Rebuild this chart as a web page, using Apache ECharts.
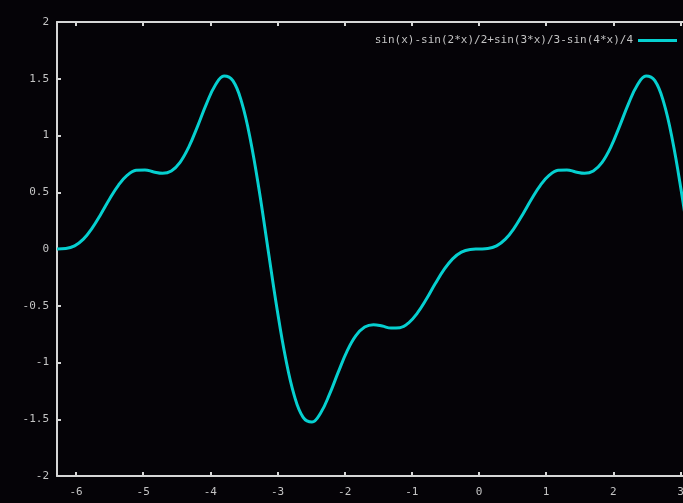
<!DOCTYPE html>
<html>
<head>
<meta charset="utf-8">
<script src="https://cdn.jsdelivr.net/npm/echarts@6/dist/echarts.min.js"></script>
<style>
html,body{margin:0;padding:0;background:#050307;overflow:hidden;width:683px;height:503px;}
#c{width:960px;height:503px;}
</style>
</head>
<body>
<div id="c"></div>
<script>
// Curve samples (x, y)
var xs = [-6.283,-6.152,-6.021,-5.890,-5.760,-5.629,-5.498,-5.367,-5.236,-5.105,-4.974,-4.843,-4.712,-4.581,-4.451,-4.320,-4.189,-4.058,-3.927,-3.796,-3.665,-3.534,-3.403,-3.272,-3.142,
  -3.011,-2.880,-2.749,-2.618,-2.487,-2.356,-2.225,-2.094,-1.964,-1.833,-1.702,-1.571,-1.440,-1.309,-1.178,-1.047,-0.916,-0.785,-0.655,-0.524,-0.393,-0.262,-0.131,0,
  0.131,0.262,0.393,0.524,0.655,0.785,0.916,1.047,1.178,1.309,1.440,1.571,1.702,1.833,1.964,2.094,2.225,2.356,2.487,2.618,2.749,2.880,3.011,3.142,
  3.273,3.403,3.534];
var ys = [0,0.004,0.028,0.087,0.184,0.309,0.443,0.563,0.650,0.693,0.697,0.679,0.667,0.688,0.764,0.900,1.083,1.279,1.443,1.525,1.483,1.294,0.961,0.513,0,
  -0.513,-0.961,-1.294,-1.483,-1.525,-1.443,-1.279,-1.083,-0.900,-0.764,-0.688,-0.667,-0.679,-0.697,-0.693,-0.650,-0.563,-0.443,-0.309,-0.184,-0.087,-0.028,-0.004,0,
  0.004,0.028,0.087,0.184,0.309,0.443,0.563,0.650,0.693,0.697,0.679,0.667,0.688,0.764,0.900,1.083,1.279,1.443,1.525,1.483,1.294,0.961,0.513,0,
  -0.513,-0.961,-1.294];
var xTicks = [-6,-5,-4,-3,-2,-1,0,1,2,3,4,5,6];
var seriesName = 'sin(x)-sin(2*x)/2+sin(3*x)/3-sin(4*x)/4';
var xMin = -6.2832, xMax = 6.2832;

var pts = xs.map(function(x,i){return [x, ys[i]];});
var axisCol = '#d6d6d6';
var labelFont = {color:'#c4c4c4', fontFamily:'DejaVu Sans Mono', fontSize:11};

var chart = echarts.init(document.getElementById('c'), null, {renderer:'canvas'});
chart.setOption({
  backgroundColor:'#050307',
  animation:false,
  grid:{left:57, top:22, right:59, bottom:27, containLabel:false},
  legend:{
    data:[{name:seriesName, icon:'rect'}],
    right:278, top:30, align:'right',
    itemWidth:39, itemHeight:3,
    textStyle:{color:'#c4c4c4', fontFamily:'DejaVu Sans Mono', fontSize:11}
  },
  xAxis:[{
    type:'value', min:xMin, max:xMax, position:'bottom',
    axisLine:{show:true, onZero:false, lineStyle:{color:axisCol, width:2}},
    axisTick:{show:true, inside:true, length:4, customValues:xTicks, lineStyle:{color:axisCol, width:2}},
    axisLabel:{show:true, customValues:xTicks, margin:11, formatter:function(v){return String(v);}, color:labelFont.color, fontFamily:labelFont.fontFamily, fontSize:labelFont.fontSize},
    splitLine:{show:false}
  },{
    type:'value', min:xMin, max:xMax, position:'top',
    axisLine:{show:true, onZero:false, lineStyle:{color:axisCol, width:2}},
    axisTick:{show:true, inside:true, length:4, customValues:xTicks, lineStyle:{color:axisCol, width:2}},
    axisLabel:{show:false},
    splitLine:{show:false}
  }],
  yAxis:[{
    type:'value', min:-2, max:2, interval:0.5, position:'left',
    axisLine:{show:true, onZero:false, lineStyle:{color:axisCol, width:2}},
    axisTick:{show:true, inside:true, length:4, lineStyle:{color:axisCol, width:2}},
    axisLabel:{show:true, margin:8, color:labelFont.color, fontFamily:labelFont.fontFamily, fontSize:labelFont.fontSize},
    splitLine:{show:false}
  },{
    type:'value', min:-2, max:2, interval:0.5, position:'right',
    axisLine:{show:true, onZero:false, lineStyle:{color:axisCol, width:2}},
    axisTick:{show:true, inside:true, length:4, lineStyle:{color:axisCol, width:2}},
    axisLabel:{show:false},
    splitLine:{show:false}
  }],
  series:[{
    name:seriesName, type:'line', xAxisIndex:0, yAxisIndex:0,
    data:pts, smooth:0.4, showSymbol:false, symbol:'none',
    lineStyle:{color:'#06d0d0', width:3},
    itemStyle:{color:'#06d0d0'},
    clip:true
  }]
});
</script>
</body>
</html>
